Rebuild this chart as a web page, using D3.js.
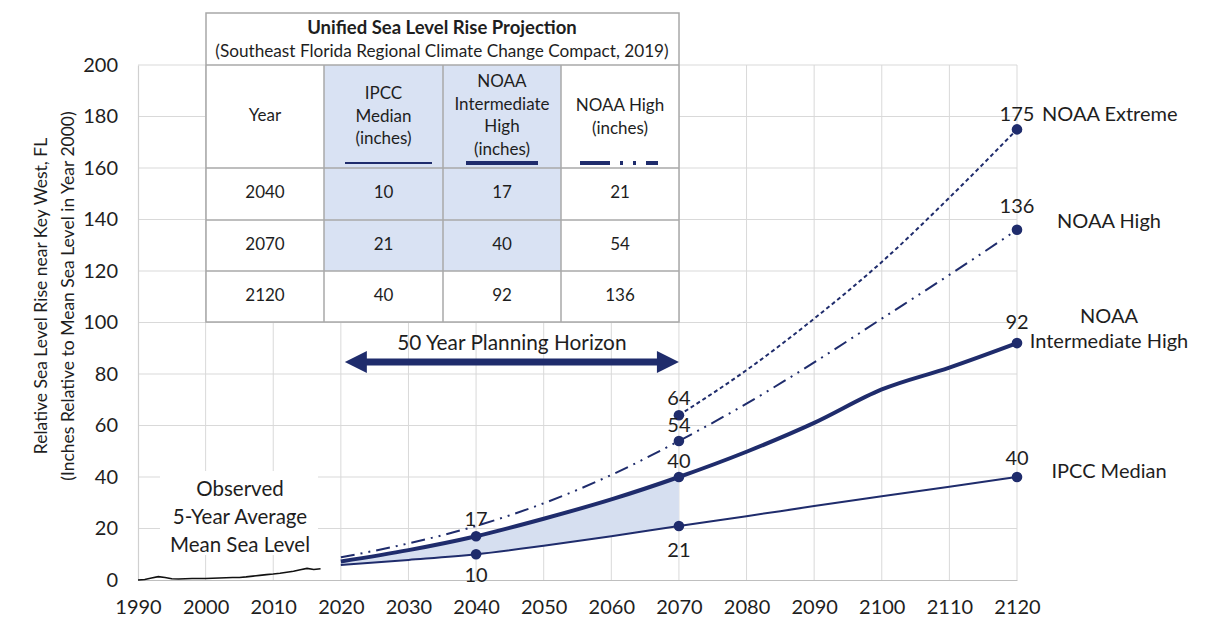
<!DOCTYPE html>
<html>
<head>
<meta charset="utf-8">
<script src="https://cdn.jsdelivr.net/npm/d3@7"></script>
<style>
  html, body { margin: 0; padding: 0; background: #fff; }
  svg { display: block; font-family: Lato, "Open Sans", sans-serif; }
</style>
</head>
<body>
<svg id="chart" width="1229" height="622"></svg>
<script>
// ---------------- DATA ----------------
const xTicks = [1990, 2000, 2010, 2020, 2030, 2040, 2050, 2060, 2070, 2080, 2090, 2100, 2110, 2120];
const yTicks = [0, 20, 40, 60, 80, 100, 120, 140, 160, 180, 200];

const observedYears = [1990,1991,1992,1993,1994,1995,1996,1997,1998,1999,2000,2001,2002,2003,2004,2005,2006,2007,2008,2009,2010,2011,2012,2013,2014,2015,2016,2017];
const observedValues = [0,0.2,0.8,1.3,1.0,0.5,0.4,0.5,0.6,0.6,0.6,0.7,0.8,0.9,1.0,1.0,1.2,1.5,1.8,2.1,2.3,2.6,3.0,3.4,4.0,4.5,4.1,4.4];

const projYears = [2020, 2030, 2040, 2050, 2060, 2070, 2080, 2090, 2100, 2110, 2120];
const ipccMedian = [5.8, 7.8, 10, 13.3, 17, 21, 24.8, 28.7, 32.5, 36.2, 40];
const noaaIntHigh = [7.2, 11.6, 17, 23.8, 31.3, 40, 49.8, 61, 74, 82.5, 92];
const noaaHigh = [8.8, 14.2, 21, 29.8, 40.8, 54, 68.5, 84.5, 101.5, 118.5, 136];
const extremeYears = [2070, 2080, 2090, 2100, 2110, 2120];
const noaaExtreme = [64, 81.5, 101.5, 123.5, 148.5, 175];

const tableTitle = "Unified Sea Level Rise Projection";
const tableSubtitle = "(Southeast Florida Regional Climate Change Compact, 2019)";
const tableYears = [2040, 2070, 2120];
const tableIpcc = [10, 21, 40];
const tableIntHigh = [17, 40, 92];
const tableHigh = [21, 54, 136];

const markerYears = { ipcc: [2040, 2070, 2120], ih: [2040, 2070, 2120], high: [2070, 2120], ext: [2070, 2120] };

// ---------------- SETUP ----------------
const svg = d3.select("#chart");
const navy = "#1f2c6c";
const textColor = "#1e1e1e";
const x = d3.scaleLinear().domain([1990, 2120]).range([138, 1017]);
const y = d3.scaleLinear().domain([0, 200]).range([580, 65]);

// gridlines
const grid = svg.append("g");
grid.selectAll("line.h").data(yTicks.filter(d => d > 0)).join("line")
  .attr("x1", x(1990)).attr("x2", x(2120))
  .attr("y1", d => y(d)).attr("y2", d => y(d))
  .attr("stroke", "#d9d9d9").attr("stroke-width", 1);
grid.selectAll("line.v").data(xTicks.filter(d => d > 1990)).join("line")
  .attr("x1", d => x(d)).attr("x2", d => x(d))
  .attr("y1", y(0)).attr("y2", y(200))
  .attr("stroke", "#d9d9d9").attr("stroke-width", 1);

// axes
const xAxis = svg.append("g").attr("transform", `translate(0,${y(0)})`)
  .call(d3.axisBottom(x).tickValues(xTicks).tickFormat(d3.format("d")).tickSize(0).tickPadding(20));
const yAxis = svg.append("g").attr("transform", `translate(${x(1990)},0)`)
  .call(d3.axisLeft(y).tickValues(yTicks).tickSize(0).tickPadding(20));
[xAxis, yAxis].forEach(a => {
  a.select(".domain").attr("stroke", "#bfbfbf").attr("stroke-width", 1.2);
  a.selectAll("text").attr("font-size", 20).attr("fill", textColor).attr("font-family", "Lato, sans-serif");
});
yAxis.select(".domain").attr("stroke", "#d0d0d0");

// axis title
const yTitle = svg.append("text").attr("transform", "translate(47,296) rotate(-90)")
  .attr("text-anchor", "middle").attr("font-size", 17.5).attr("fill", textColor);
yTitle.append("tspan").attr("x", 0).attr("dy", 0).text("Relative Sea Level Rise near Key West, FL");
yTitle.append("tspan").attr("x", 0).attr("dy", 27).text("(Inches Relative to Mean Sea Level in Year 2000)");

// ---------------- SERIES ----------------
const zip = (xs, ys) => xs.map((d, i) => ({ year: d, v: ys[i] }));
const ipccData = zip(projYears, ipccMedian);
const ihData = zip(projYears, noaaIntHigh);
const highData = zip(projYears, noaaHigh);
const extData = zip(extremeYears, noaaExtreme);
const obsData = zip(observedYears, observedValues);

const curve = d3.curveMonotoneX;
const line = d3.line().x(d => x(d.year)).y(d => y(d.v)).curve(curve);

// shaded band 2020-2070
const bandData = projYears.map((yr, i) => ({ year: yr, lo: ipccMedian[i], hi: noaaIntHigh[i] })).filter(d => d.year <= 2070);
svg.append("path").datum(bandData)
  .attr("d", d3.area().x(d => x(d.year)).y0(d => y(d.lo)).y1(d => y(d.hi)).curve(curve))
  .attr("fill", "#d6dff0");

// observed box label
const obsBox = svg.append("g");
obsBox.append("rect").attr("x", 160).attr("y", 471).attr("width", 158).attr("height", 84).attr("fill", "#fff");
const obsText = obsBox.append("text").attr("text-anchor", "middle").attr("font-size", 20.5).attr("fill", textColor);
["Observed", "5-Year Average", "Mean Sea Level"].forEach((t, i) => {
  obsText.append("tspan").attr("x", 240).attr("y", 496 + i * 28).text(t);
});

svg.append("path").datum(obsData).attr("d", d3.line().x(d => x(d.year)).y(d => y(d.v)).curve(d3.curveLinear))
  .attr("fill", "none").attr("stroke", "#111").attr("stroke-width", 1.6);

svg.append("path").datum(ipccData).attr("d", line)
  .attr("fill", "none").attr("stroke", navy).attr("stroke-width", 2);
svg.append("path").datum(ihData).attr("d", line)
  .attr("fill", "none").attr("stroke", navy).attr("stroke-width", 4);
svg.append("path").datum(highData).attr("d", line)
  .attr("fill", "none").attr("stroke", navy).attr("stroke-width", 2)
  .attr("stroke-dasharray", "14,6,2,6,2,6");
svg.append("path").datum(extData).attr("d", line)
  .attr("fill", "none").attr("stroke", navy).attr("stroke-width", 2)
  .attr("stroke-dasharray", "4,3");

// markers
const markers = [
  ...ipccData.filter(d => markerYears.ipcc.includes(d.year)),
  ...ihData.filter(d => markerYears.ih.includes(d.year)),
  ...highData.filter(d => markerYears.high.includes(d.year)),
  ...extData.filter(d => markerYears.ext.includes(d.year))
];
svg.selectAll("circle.m").data(markers).join("circle")
  .attr("cx", d => x(d.year)).attr("cy", d => y(d.v)).attr("r", 5.3).attr("fill", navy);

// value labels
const valueLabels = [
  { d: ihData[2], dy: -15, dx: 0 }, { d: ipccData[2], dy: 23, dx: 0 },
  { d: extData[0], dy: -15, dx: 0 }, { d: highData[5], dy: -14, dx: 0 },
  { d: ihData[5], dy: -14, dx: 0 }, { d: ipccData[5], dy: 26, dx: 0 },
  { d: ipccData[10], dy: -17, dx: 0 }, { d: ihData[10], dy: -19, dx: 0 },
  { d: highData[10], dy: -22, dx: 0 }, { d: extData[5], dy: -13, dx: 0 }
];
svg.selectAll("text.val").data(valueLabels).join("text")
  .attr("x", o => x(o.d.year) + o.dx).attr("y", o => y(o.d.v) + o.dy)
  .attr("text-anchor", "middle").attr("dominant-baseline", "middle")
  .attr("font-size", 20).attr("fill", textColor).text(o => o.d.v);

// series names
const nameStyle = s => s.attr("font-size", 20).attr("fill", textColor).attr("dominant-baseline", "middle");
svg.append("text").attr("x", 1042).attr("y", 116).call(nameStyle).text("NOAA Extreme");
svg.append("text").attr("x", 1109).attr("y", 223).attr("text-anchor", "middle").call(nameStyle).text("NOAA High");
svg.append("text").attr("x", 1109).attr("y", 318).attr("text-anchor", "middle").call(nameStyle).text("NOAA");
svg.append("text").attr("x", 1109).attr("y", 343).attr("text-anchor", "middle").call(nameStyle).text("Intermediate High");
svg.append("text").attr("x", 1109).attr("y", 473).attr("text-anchor", "middle").call(nameStyle).text("IPCC Median");

// planning horizon arrow
const ax1 = x(2020) + 4, ax2 = x(2070), ay = 362, hl = 22, hh = 11, sh = 3.5;
svg.append("path")
  .attr("d", `M${ax1},${ay} L${ax1 + hl},${ay - hh} L${ax1 + hl},${ay - sh} L${ax2 - hl},${ay - sh} L${ax2 - hl},${ay - hh} L${ax2},${ay} L${ax2 - hl},${ay + hh} L${ax2 - hl},${ay + sh} L${ax1 + hl},${ay + sh} L${ax1 + hl},${ay + hh} Z`)
  .attr("fill", navy);
svg.append("text").attr("x", (ax1 + ax2) / 2).attr("y", 345).attr("text-anchor", "middle")
  .attr("dominant-baseline", "middle").attr("font-size", 20.8).attr("fill", textColor).text("50 Year Planning Horizon");

// ---------------- TABLE ----------------
const T = svg.append("g");
const colX = [206, 324, 443, 561, 679];
const rowY = [13, 65, 168, 220, 271, 322];
const border = "#a8a8a8";
T.append("rect").attr("x", colX[0]).attr("y", rowY[0]).attr("width", colX[4] - colX[0]).attr("height", rowY[5] - rowY[0]).attr("fill", "#fff");
// shading
T.append("rect").attr("x", colX[1]).attr("y", rowY[1]).attr("width", colX[3] - colX[1]).attr("height", rowY[4] - rowY[1]).attr("fill", "#d9e2f3");
// borders
T.append("rect").attr("x", colX[0]).attr("y", rowY[0]).attr("width", colX[4] - colX[0]).attr("height", rowY[5] - rowY[0])
  .attr("fill", "none").attr("stroke", border).attr("stroke-width", 1.5);
rowY.slice(1, 5).forEach(ry => T.append("line").attr("x1", colX[0]).attr("x2", colX[4]).attr("y1", ry).attr("y2", ry).attr("stroke", border).attr("stroke-width", 1.5));
colX.slice(1, 4).forEach(cx => T.append("line").attr("x1", cx).attr("x2", cx).attr("y1", rowY[1]).attr("y2", rowY[5]).attr("stroke", border).attr("stroke-width", 1.5));

T.append("text").attr("x", 442).attr("y", 29).attr("text-anchor", "middle").attr("dominant-baseline", "middle")
  .attr("font-size", 18.5).attr("font-weight", "bold").attr("fill", textColor).text(tableTitle);
T.append("text").attr("x", 442).attr("y", 53).attr("text-anchor", "middle").attr("dominant-baseline", "middle")
  .attr("font-size", 17.2).attr("fill", textColor).text(tableSubtitle);

const headers = [
  { lines: ["Year"], y0: 117 },
  { lines: ["IPCC", "Median", "(inches)"], y0: 95 },
  { lines: ["NOAA", "Intermediate", "High", "(inches)"], y0: 83 },
  { lines: ["NOAA High", "(inches)"], y0: 107 }
];
headers.forEach((h, ci) => {
  const cx = (colX[ci] + colX[ci + 1]) / 2;
  h.lines.forEach((t, li) => T.append("text").attr("x", cx).attr("y", h.y0 + li * 22.5)
    .attr("text-anchor", "middle").attr("dominant-baseline", "middle").attr("font-size", 17).attr("fill", textColor).text(t));
});
// legend samples
T.append("line").attr("x1", 345).attr("x2", 432).attr("y1", 163).attr("y2", 163).attr("stroke", navy).attr("stroke-width", 2);
T.append("line").attr("x1", 466).attr("x2", 538).attr("y1", 163).attr("y2", 163).attr("stroke", navy).attr("stroke-width", 4);
T.append("line").attr("x1", 580).attr("x2", 663).attr("y1", 163).attr("y2", 163).attr("stroke", navy).attr("stroke-width", 4)
  .attr("stroke-dasharray", "30,10,3,10,3,10,12");

const rows = tableYears.map((yr, i) => [yr, tableIpcc[i], tableIntHigh[i], tableHigh[i]]);
rows.forEach((r, ri) => {
  const cy = (rowY[ri + 2] + rowY[ri + 3]) / 2;
  r.forEach((v, ci) => T.append("text").attr("x", (colX[ci] + colX[ci + 1]) / 2).attr("y", cy)
    .attr("text-anchor", "middle").attr("dominant-baseline", "middle").attr("font-size", 17).attr("fill", textColor).text(v));
});
</script>
</body>
</html>
